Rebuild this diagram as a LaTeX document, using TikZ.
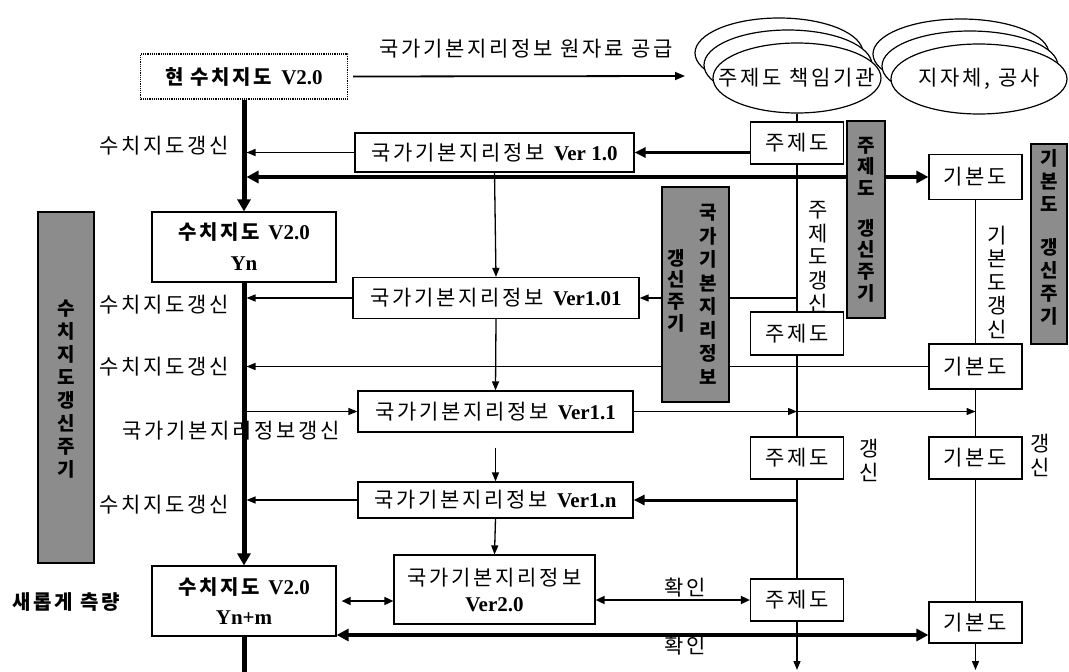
\documentclass[tikz,border=0pt]{standalone}
\usepackage{fontspec}
\setmainfont{Liberation Serif}
\newfontfamily\krn{Noto Sans CJK KR}
\newfontfamily\krs[LetterSpace=13]{Noto Sans CJK KR}
\usetikzlibrary{arrows.meta,shapes.geometric,calc}
\newcommand{\K}[1]{{\krs\fontsize{21}{24}\selectfont #1}}
\newcommand{\KB}[1]{{\krs\bfseries\fontsize{20}{22}\selectfont #1}}
\newcommand{\LB}[1]{{\rmfamily\bfseries\fontsize{21}{22}\selectfont #1}}
\newcommand{\gap}{\hspace{9pt}}
\begin{document}
\begin{tikzpicture}[x=1pt,y=-1pt,
  box/.style={draw, line width=1.2pt, fill=white, inner sep=0pt, align=center},
  ell/.style={ellipse, draw, line width=1.2pt, fill=white, inner sep=0pt},
  gbox/.style={draw, line width=1.2pt, fill=black!45, inner sep=0pt},
  vtxt/.style={inner sep=0pt, align=center, font=\krn\bfseries\fontsize{19}{23}\selectfont},
  rvtxt/.style={inner sep=0pt, align=center, font=\krn\fontsize{21}{23.5}\selectfont},
  lbl/.style={inner sep=0pt},
  arr/.style={line width=1.3pt, -{Triangle[length=9pt,width=7pt]}},
  darr/.style={line width=1.6pt, {Triangle[length=9pt,width=8pt]}-{Triangle[length=9pt,width=8pt]}},
  marr/.style={line width=3pt, -{Triangle[length=11pt,width=10pt]}},
  thk/.style={line width=4.5pt, {Triangle[length=12pt,width=12pt]}-{Triangle[length=12pt,width=12pt]}},
  mainarr/.style={line width=5pt, -{Triangle[length=12pt,width=13pt]}},
]
\useasboundingbox (0,0) rectangle (1069,672);

% stacked ellipses
\node[ell, minimum width=168, minimum height=70] (e1b2) at (779,53) {};
\node[ell, minimum width=168, minimum height=70] (e1b1) at (788,65) {};
\node[ell, minimum width=176, minimum height=70] (e2b2) at (961,54) {};
\node[ell, minimum width=176, minimum height=70] (e2b1) at (970,66) {};
\node[ell, minimum width=168, minimum height=70, label={center:\K{주제도 책임기관}}] (e1) at (797,78) {};
\node[ell, minimum width=176, minimum height=70, label={center:\K{지자체, 공사}}] (e2) at (979,79) {};

% labels
\node[lbl] (lblTop) at (526,49) {\K{국가기본지리정보 원자료 공급}};
\node[lbl] (lbl1) at (164,146) {\K{수치지도갱신}};
\node[lbl] (lbl2) at (164,305) {\K{수치지도갱신}};
\node[lbl] (lbl3) at (164,367) {\K{수치지도갱신}};
\node[lbl] (lbl4) at (164,505) {\K{수치지도갱신}};
\node[lbl] (lblN) at (231,431) {\K{국가기본지리정보갱신}};
\node[lbl] (lblNew) at (66,602) {\KB{새롭게 측량}};
\node[lbl] (ok1) at (685,588) {\K{확인}};
\node[lbl] (ok2) at (685,646) {\K{확인}};
\node[rvtxt] (jv) at (818,257.5) {주\\제\\도\\갱\\신};
\node[rvtxt] (gv) at (997,282) {기\\본\\도\\갱\\신};
\node[rvtxt] (jv3) at (869,460.5) {갱\\신};
\node[rvtxt] (gv3) at (1040,455.5) {갱\\신};

% boxes
\node[box, densely dotted, minimum width=207, minimum height=45] (cur) at (244,76.5) {\KB{현 수치지도}\gap\LB{V2.0}};
\node[box, minimum width=279, minimum height=39] (v10) at (494.5,152.5) {\K{국가기본지리정보}\gap\LB{Ver 1.0}};
\node[box, minimum width=184, minimum height=70, font=\fontsize{20}{31}\selectfont] (yn) at (244,247) {\KB{수치지도}\gap\LB{V2.0}\\\LB{Yn}};
\node[box, minimum width=286, minimum height=41] (v101) at (496,298) {\K{국가기본지리정보}\gap\LB{Ver1.01}};
\node[box, minimum width=275, minimum height=41] (v11) at (495.5,411.5) {\K{국가기본지리정보}\gap\LB{Ver1.1}};
\node[box, minimum width=275, minimum height=36] (v1n) at (495.5,500) {\K{국가기본지리정보}\gap\LB{Ver1.n}};
\node[box, minimum width=184, minimum height=70, font=\fontsize{20}{30}\selectfont] (ynm) at (244,601) {\KB{수치지도}\gap\LB{V2.0}\\\LB{Yn+m}};
\node[box, minimum width=201, minimum height=69, font=\fontsize{20}{26}\selectfont] (v20) at (494.5,589.5) {\K{국가기본지리정보}\\\LB{Ver2.0}};

\node[box, minimum width=93, minimum height=42] (ju1) at (797,143) {\K{주제도}};
\node[box, minimum width=93, minimum height=43] (ju2) at (797,333.5) {\K{주제도}};
\node[box, minimum width=93, minimum height=42] (ju3) at (797,458) {\K{주제도}};
\node[box, minimum width=93, minimum height=42] (ju4) at (797,600) {\K{주제도}};
\node[box, minimum width=93, minimum height=45] (gi1) at (975.5,177) {\K{기본도}};
\node[box, minimum width=93, minimum height=45] (gi2) at (975.5,366.5) {\K{기본도}};
\node[box, minimum width=93, minimum height=42] (gi3) at (975.5,458) {\K{기본도}};
\node[box, minimum width=93, minimum height=41] (gi4) at (975.5,622.5) {\K{기본도}};

\coordinate (topEnd) at (685,76);
\coordinate (juEnd) at (797,670);
\coordinate (giEnd) at (975.5,670);
\coordinate (mainEnd) at (244,672);

% main line
\draw[mainarr] (cur.south) -- (yn.north);
\draw[mainarr] (yn.south) -- (ynm.north);
\draw[line width=5pt] (ynm.south) -- (mainEnd);

% top arrow
\draw[line width=1.8pt, -{Triangle[length=10pt,width=8pt]}] ([xshift=5pt]cur.east) -- (topEnd);

% row connectors
\draw[arr] (v10.west) -- ([xshift=2.5pt]v10.west -| yn.north);
\draw[marr] (v10.east -| ju1.west) -- (v10.east);
\draw[thk] (gi1.west) -- ([xshift=2.5pt]gi1.west -| yn.north);
\draw[arr] (v10.south) -- (v101.north);
\draw[arr] (v101.west) -- ([xshift=2.5pt]v101.west -| yn.north);
\draw[arr] (v101.east -| ju1.south) -- (v101.east);
\draw[arr] (gi2.west) -- ([xshift=2.5pt]gi2.west -| yn.north);
\draw[arr] (v101.south) -- (v11.north);
\draw[arr] ([xshift=-2.5pt]v11.west -| yn.north) -- (v11.west);
\draw[arr] (v11.east) -- (v11.east -| ju2.south);
\draw[arr] (v11.east -| ju2.south) -- (v11.east -| gi2.south);
\draw[arr] ([yshift=-15pt]v11.south) -- (v1n.north);
\draw[arr] (v1n.west) -- ([xshift=2.5pt]v1n.west -| yn.north);
\draw[marr] (v1n.east -| ju3.south) -- (v1n.east);
\draw[arr] (v1n.south) -- (v20.north);
\draw[darr] ([xshift=5pt]ynm.east) -- (ynm.east -| v20.west);
\draw[darr] (ju4.west -| v20.east) -- (ju4.west);
\path (gi4.west) ++(0,12.5) coordinate (thkR);
\draw[thk] (thkR) -- (thkR -| ynm.east);

% vertical columns
\draw[line width=1.3pt] (e1.south) -- (ju1.north);
\draw[line width=1.3pt] (ju1.south) -- (ju2.north);
\draw[line width=1.3pt] (ju2.south) -- (ju3.north);
\draw[line width=1.3pt] (ju3.south) -- (ju4.north);
\draw[arr] (ju4.south) -- (juEnd);
\draw[line width=1.3pt] (gi1.south) -- (gi2.north);
\draw[line width=1.3pt] (gi2.south) -- (gi3.north);
\draw[line width=1.3pt] (gi3.south) -- (gi4.north);
\draw[arr] (gi4.south) -- (giEnd);

% gray boxes
\node[gbox, minimum width=56, minimum height=351] (gL) at (66,387.5) {};
\node[vtxt] (gLt) at (66,389) {수\\치\\지\\도\\갱\\신\\주\\기};
\node[gbox, minimum width=67, minimum height=215] (gM) at (695.5,294.5) {};
\node[vtxt, font=\krn\bfseries\fontsize{19}{23.5}\selectfont] (gMr) at (708,294.5) {국\\가\\기\\본\\지\\리\\정\\보};
\node[vtxt, font=\krn\bfseries\fontsize{19}{21.7}\selectfont] (gMl) at (676,290.5) {갱\\신\\주\\기};
\node[gbox, minimum width=38, minimum height=197] (gJ) at (866,219.5) {};
\node[vtxt, font=\krn\bfseries\fontsize{19}{21.7}\selectfont] (gJt) at (866,219.5) {주\\제\\도\\[18pt]갱\\신\\주\\기};
\node[gbox, minimum width=36, minimum height=200] (gG) at (1049,244) {};
\node[vtxt] (gGt) at (1049,237) {기\\본\\도\\[20pt]갱\\신\\주\\기};
\end{tikzpicture}
\end{document}
